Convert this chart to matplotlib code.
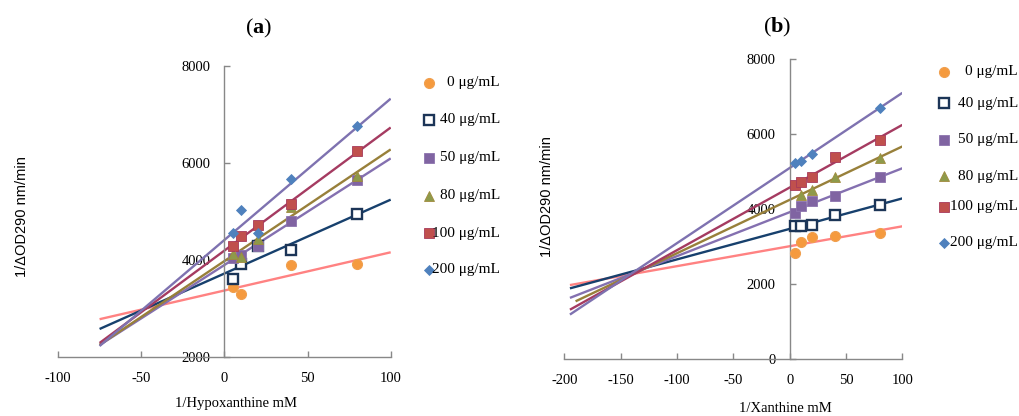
import numpy as np
import matplotlib
matplotlib.use("Agg")
import matplotlib.pyplot as plt
from matplotlib.lines import Line2D

plt.rcParams["font.family"] = ["Liberation Serif", "DejaVu Serif"]
plt.rcParams["axes.unicode_minus"] = False
plt.rcParams["mathtext.fontset"] = "custom"
plt.rcParams["mathtext.rm"] = "Liberation Serif"
plt.rcParams["mathtext.bf"] = "Liberation Serif:bold"

# ---- data -------------------------------------------------------------
conc_labels = ["0 μg/mL", "40 μg/mL", "50 μg/mL", "80 μg/mL", "100 μg/mL", "200 μg/mL"]

# (a) 1/Hypoxanthine vs 1/ΔOD290
hypo_x_0 = [5, 10, 40, 80]
hypo_y_0 = [3452, 3295, 3892, 3919]
hypo_x_40 = [5, 10, 20, 40, 80]
hypo_y_40 = [3616, 3913, 4296, 4207, 4942]
hypo_x_50 = [5, 10, 20, 40, 80]
hypo_y_50 = [4036, 4100, 4300, 4810, 5647]
hypo_x_80 = [5, 10, 20, 40, 80]
hypo_y_80 = [4130, 4070, 4430, 5090, 5740]
hypo_x_100 = [5, 10, 20, 40, 80]
hypo_y_100 = [4290, 4496, 4722, 5154, 6240]
hypo_x_200 = [5, 10, 20, 40, 80]
hypo_y_200 = [4551, 5030, 4563, 5668, 6762]

# (b) 1/Xanthine vs 1/ΔOD290
xan_x_0 = [5, 10, 20, 40, 80]
xan_y_0 = [2843, 3128, 3253, 3297, 3377]
xan_x_40 = [5, 10, 20, 40, 80]
xan_y_40 = [3555, 3555, 3573, 3840, 4124]
xan_x_50 = [5, 10, 20, 40, 80]
xan_y_50 = [3910, 4088, 4213, 4355, 4862]
xan_x_80 = [10, 20, 40, 80]
xan_y_80 = [4390, 4515, 4862, 5377]
xan_x_100 = [5, 10, 20, 40, 80]
xan_y_100 = [4649, 4720, 4862, 5403, 5857]
xan_x_200 = [5, 10, 20, 80]
xan_y_200 = [5227, 5297, 5475, 6710]

# ---- styles -----------------------------------------------------------
marker_styles = [
    dict(marker="o", ms=7.2, mfc="#F59A3E", mec="#F0A050", mew=0.8),
    dict(marker="s", ms=7.0, mfc="white", mec="#1C3557", mew=1.7),
    dict(marker="s", ms=7.4, mfc="#8064A2", mec="#8C74AE", mew=0.6),
    dict(marker="^", ms=7.8, mfc="#8E9A4A", mec="#A08A3C", mew=0.6),
    dict(marker="s", ms=7.8, mfc="#C0504D", mec="#A83A5A", mew=0.6),
    dict(marker="D", ms=5.4, mfc="#4F81BD", mec="#4F81BD", mew=0.6),
]
line_colors = ["#FF8282", "#17406D", "#8470B0", "#98803A", "#A53B61", "#7E72B0"]
axis_gray = "#888888"

W, H = 1020, 416
fig = plt.figure(figsize=(W / 100, H / 100), dpi=100)


def px_to_fig(x, y):
    return x / W, 1 - y / H


def axes_px(x0, x1, ytop, ybot):
    return fig.add_axes([x0 / W, 1 - ybot / H, (x1 - x0) / W, (ybot - ytop) / H])


def style_axes(ax, xlim, ylim, xticks, yticks):
    ax.set_xlim(*xlim)
    ax.set_ylim(*ylim)
    for s in ("top", "right"):
        ax.spines[s].set_visible(False)
    ax.spines["left"].set_position(("data", 0))
    for s in ("left", "bottom"):
        ax.spines[s].set_color(axis_gray)
        ax.spines[s].set_linewidth(1.0)
    ax.set_xticks(xticks)
    ax.set_yticks(yticks)
    ax.set_xticklabels([str(v) for v in xticks])
    ax.set_yticklabels([str(v) for v in yticks])
    ax.tick_params(axis="both", direction="in", length=4, width=1.0,
                   color=axis_gray, labelsize=10.5, labelcolor="black")
    ax.tick_params(axis="y", pad=10)
    ax.tick_params(axis="x", pad=10.5)
    ax.patch.set_alpha(0)


def draw_panel(ax, series, backcast):
    # least-squares trend lines, extended backwards from the first point
    for (xs, ys), lc in zip(series, line_colors):
        k, b = np.polyfit(xs, ys, 1)
        xx = np.array([min(xs) - backcast, 100])
        ax.plot(xx, k * xx + b, color=lc, lw=1.7, solid_capstyle="butt", zorder=2)
    for (xs, ys), st in zip(series, marker_styles):
        ax.plot(xs, ys, ls="none", zorder=3, **st)


def draw_legend(marker_x, text_right, rows):
    for y, st, lab in zip(rows, marker_styles, conc_labels):
        fx, fy = px_to_fig(marker_x, y)
        fig.add_artist(Line2D([fx], [fy], transform=fig.transFigure, ls="none", **st))
        tx, ty = px_to_fig(text_right, y)
        fig.text(tx, ty, lab, ha="right", va="center", fontsize=11)


ylabel = "1/ΔOD290 nm/min"

# ---- panel (a) --------------------------------------------------------
ax_a = axes_px(58, 390.7, 65.7, 357.3)
style_axes(ax_a, (-100, 100), (2000, 8000), [-100, -50, 0, 50, 100], [2000, 4000, 6000, 8000])
draw_panel(ax_a, [(hypo_x_0, hypo_y_0), (hypo_x_40, hypo_y_40), (hypo_x_50, hypo_y_50),
                  (hypo_x_80, hypo_y_80), (hypo_x_100, hypo_y_100), (hypo_x_200, hypo_y_200)], 80)
fig.text(*px_to_fig(236, 403), "1/Hypoxanthine mM", ha="center", va="center", fontsize=10.5)
fig.text(*px_to_fig(22, 217), ylabel, ha="center", va="center", rotation=90,
         fontsize=10.5, family=["Liberation Sans", "DejaVu Sans"])
fig.text(*px_to_fig(258.7, 28), r"($\mathbf{a}$)", ha="center", va="center", fontsize=16)
draw_legend(429.3, 500, [82.7, 120, 157.7, 196, 233.3, 270])

# ---- panel (b) --------------------------------------------------------
ax_b = axes_px(564.3, 902.3, 59.3, 359.3)
style_axes(ax_b, (-200, 100), (0, 8000), [-200, -150, -100, -50, 0, 50, 100], [0, 2000, 4000, 6000, 8000])
draw_panel(ax_b, [(xan_x_0, xan_y_0), (xan_x_40, xan_y_40), (xan_x_50, xan_y_50),
                  (xan_x_80, xan_y_80), (xan_x_100, xan_y_100), (xan_x_200, xan_y_200)], 200)
fig.text(*px_to_fig(785, 408), "1/Xanthine mM", ha="center", va="center", fontsize=10.5)
fig.text(*px_to_fig(546.7, 197), ylabel, ha="center", va="center", rotation=90,
         fontsize=10.5, family=["Liberation Sans", "DejaVu Sans"])
fig.text(*px_to_fig(777.5, 27), r"($\mathbf{b}$)", ha="center", va="center", fontsize=16)
draw_legend(944.3, 1018, [71.7, 103.3, 140, 176, 206.7, 242.7])

fig.savefig("out.png", dpi=100, facecolor="white")
